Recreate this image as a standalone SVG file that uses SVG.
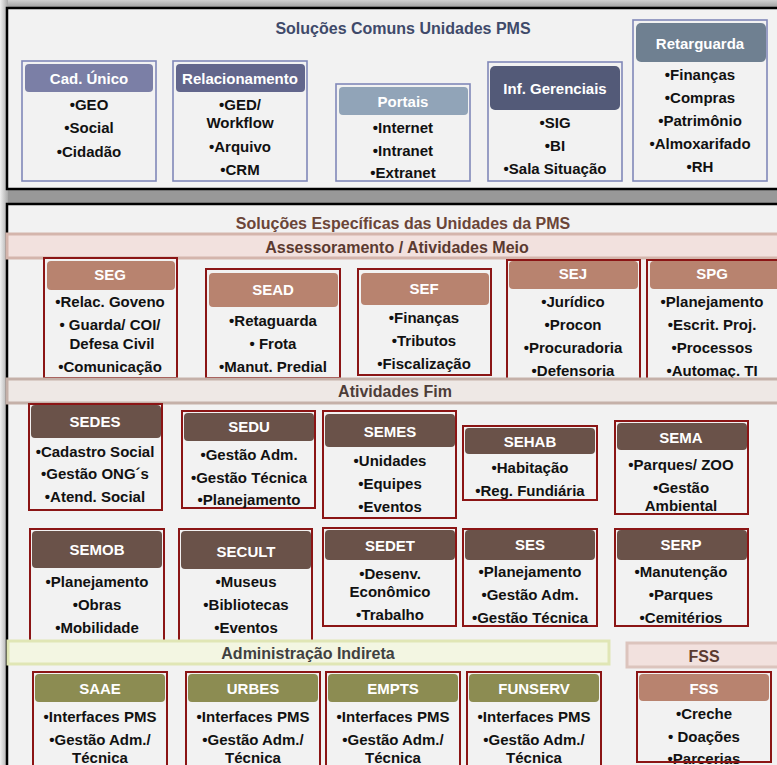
<svg xmlns="http://www.w3.org/2000/svg" width="777" height="765" viewBox="0 0 777 765">
<defs>
<linearGradient id="gl" x1="0" y1="0" x2="1" y2="0"><stop offset="0" stop-color="#f0f0f0"/><stop offset="1" stop-color="#a8a8a8"/></linearGradient>
<linearGradient id="gt" x1="0" y1="0" x2="0" y2="1"><stop offset="0" stop-color="#d0d0d0"/><stop offset="1" stop-color="#9a9a9a"/></linearGradient>
<style>
text{font-family:"Liberation Sans",Arial,sans-serif;font-weight:bold;text-anchor:middle;dominant-baseline:central}
.it{font-size:15px;fill:#111}
.hd{font-size:15px;fill:#fff}
.ttl{font-size:16px}
.ob{fill:#f2f2f2;stroke:#8088b8;stroke-width:1.6}
.or{fill:#f2f2f2;stroke:#8b1515;stroke-width:2}
.orn{fill:none;stroke:#8b1515;stroke-width:2}
.panel{fill:#f2f2f2;stroke:#000;stroke-width:2.5}
.h1{fill:#7b7fa6}.h2{fill:#62668c}.h3{fill:#91a4b8}.h4{fill:#535a78}.h5{fill:#6f8091}
.hm{fill:#b8836f}.hf{fill:#6a5249}.hi{fill:#8c8c52}
</style>
</defs>
<rect x="0" y="0" width="777" height="765" fill="#989898"/>
<rect x="0" y="0" width="777" height="8" fill="url(#gt)"/>
<rect x="0" y="0" width="8" height="765" fill="url(#gl)"/>
<rect class="panel" x="7" y="8" width="785" height="181"/>
<rect class="panel" x="7" y="204" width="785" height="575"/>
<g id="titles">
<text class="ttl" x="403" y="28" fill="#3f4a6a">Soluções Comuns Unidades PMS</text>
<text class="ttl" x="403" y="223" fill="#6b4538">Soluções Específicas das Unidades da PMS</text>
</g>
<g id="connectors"></g>
<g id="cad">
<rect class="ob" x="22" y="61" width="134" height="120"/>
<rect class="h1" x="25" y="64" width="128" height="28" rx="4"/>
<text class="hd" x="89" y="78">Cad. Único</text>
<text class="it" x="89" y="104">•GEO</text>
<text class="it" x="89" y="127">•Social</text>
<text class="it" x="89" y="151">•Cidadão</text>
</g>
<g id="rel">
<rect class="ob" x="173" y="61" width="134" height="120"/>
<rect class="h2" x="176" y="64" width="129" height="28" rx="4"/>
<text class="hd" x="240" y="78">Relacionamento</text>
<text class="it" x="240" y="104">•GED/</text>
<text class="it" x="240" y="122">Workflow</text>
<text class="it" x="240" y="146">•Arquivo</text>
<text class="it" x="240" y="169">•CRM</text>
</g>
<g id="portais">
<rect class="ob" x="336" y="84" width="134" height="97"/>
<rect class="h3" x="339" y="87" width="129" height="28" rx="4"/>
<text class="hd" x="403" y="101">Portais</text>
<text class="it" x="403" y="127">•Internet</text>
<text class="it" x="403" y="150">•Intranet</text>
<text class="it" x="403" y="172">•Extranet</text>
</g>
<g id="inf">
<rect class="ob" x="488" y="62" width="134" height="119"/>
<rect class="h4" x="490" y="66" width="130" height="44" rx="5"/>
<text class="hd" x="555" y="88">Inf. Gerenciais</text>
<text class="it" x="555" y="122">•SIG</text>
<text class="it" x="555" y="145">•BI</text>
<text class="it" x="555" y="168">•Sala Situação</text>
</g>
<g id="ret">
<rect class="ob" x="633" y="20" width="134" height="161"/>
<rect class="h5" x="636" y="23" width="130" height="39" rx="5"/>
<text class="hd" x="700" y="43">Retarguarda</text>
<text class="it" x="700" y="74">•Finanças</text>
<text class="it" x="700" y="97">•Compras</text>
<text class="it" x="700" y="120">•Patrimônio</text>
<text class="it" x="700" y="143">•Almoxarifado</text>
<text class="it" x="700" y="166">•RH</text>
</g>
<g id="band-meio">
<rect x="7" y="234" width="780" height="24" fill="#f2e1de" stroke="#d4b5ac" stroke-width="3"/>
<text class="ttl" x="397" y="247" fill="#5b3a30">Assessoramento / Atividades Meio</text>
</g>
<g id="seg">
<rect class="or" x="44" y="258" width="133" height="120"/>
<rect class="hm" x="47" y="261" width="128" height="29" rx="4"/>
<text class="hd" x="110" y="274">SEG</text>
<text class="it" x="110" y="301">•Relac. Goveno</text>
<text class="it" x="110" y="324">• Guarda/ COI/</text>
<text class="it" x="112" y="343">Defesa Civil</text>
<text class="it" x="110" y="366">•Comunicação</text>
</g>
<g id="sead">
<rect class="or" x="206" y="269" width="134" height="109"/>
<rect class="hm" x="209" y="273" width="129" height="34" rx="4"/>
<text class="hd" x="273" y="289">SEAD</text>
<text class="it" x="273" y="320">•Retaguarda</text>
<text class="it" x="273" y="343">• Frota</text>
<text class="it" x="273" y="366">•Manut. Predial</text>
</g>
<g id="sef">
<rect class="or" x="358" y="269" width="133" height="106"/>
<rect class="hm" x="361" y="273" width="128" height="32" rx="4"/>
<text class="hd" x="424" y="288">SEF</text>
<text class="it" x="424" y="317">•Finanças</text>
<text class="it" x="424" y="340">•Tributos</text>
<text class="it" x="424" y="363">•Fiscalização</text>
</g>
<g id="sej">
<rect class="or" x="507" y="260" width="133" height="125"/>
<rect class="hm" x="509" y="261" width="129" height="28" rx="4"/>
<text class="hd" x="573" y="273">SEJ</text>
<text class="it" x="573" y="301">•Jurídico</text>
<text class="it" x="573" y="324">•Procon</text>
<text class="it" x="573" y="347">•Procuradoria</text>
<text class="it" x="573" y="370">•Defensoria</text>
</g>
<g id="spg">
<rect class="or" x="647" y="260" width="135" height="125"/>
<rect class="hm" x="650" y="261" width="130" height="28" rx="4"/>
<text class="hd" x="712" y="273">SPG</text>
<text class="it" x="712" y="301">•Planejamento</text>
<text class="it" x="712" y="324">•Escrit. Proj.</text>
<text class="it" x="712" y="347">•Processos</text>
<text class="it" x="712" y="370">•Automaç. TI</text>
</g>
<g id="band-fim">
<rect x="7" y="379" width="780" height="24" fill="#eee8e5" stroke="#c5b1a9" stroke-width="3"/>
<text class="ttl" x="395" y="391" fill="#4d3d38">Atividades Fim</text>
</g>
<g id="sedes">
<rect class="or" x="29" y="404" width="133" height="106"/>
<rect class="hf" x="31" y="405" width="130" height="33" rx="4"/>
<text class="hd" x="95" y="421">SEDES</text>
<text class="it" x="95" y="451">•Cadastro Social</text>
<text class="it" x="95" y="473">•Gestão ONG´s</text>
<text class="it" x="95" y="496">•Atend. Social</text>
</g>
<g id="sedu">
<rect class="or" x="182" y="411" width="133" height="97"/>
<rect class="hf" x="184" y="413" width="130" height="28" rx="4"/>
<text class="hd" x="249" y="426">SEDU</text>
<text class="it" x="249" y="454">•Gestão Adm.</text>
<text class="it" x="249" y="477">•Gestão Técnica</text>
<text class="it" x="249" y="499">•Planejamento</text>
</g>
<g id="semes">
<rect class="or" x="323" y="411" width="133" height="107"/>
<rect class="hf" x="325" y="414" width="130" height="33" rx="4"/>
<text class="hd" x="390" y="431">SEMES</text>
<text class="it" x="390" y="460">•Unidades</text>
<text class="it" x="390" y="483">•Equipes</text>
<text class="it" x="390" y="506">•Eventos</text>
</g>
<g id="sehab">
<rect class="or" x="463" y="426" width="134" height="74"/>
<rect class="hf" x="465" y="428" width="130" height="26" rx="4"/>
<text class="hd" x="530" y="441">SEHAB</text>
<text class="it" x="530" y="467">•Habitação</text>
<text class="it" x="530" y="490">•Reg. Fundiária</text>
</g>
<g id="sema">
<rect class="or" x="615" y="421" width="133" height="93"/>
<rect class="hf" x="617" y="423" width="130" height="27" rx="4"/>
<text class="hd" x="681" y="437">SEMA</text>
<text class="it" x="681" y="464">•Parques/ ZOO</text>
<text class="it" x="681" y="487">•Gestão</text>
<text class="it" x="681" y="505">Ambiental</text>
</g>
<g id="semob">
<rect class="or" x="30" y="529" width="134" height="115"/>
<rect class="hf" x="32" y="531" width="130" height="37" rx="4"/>
<text class="hd" x="97" y="549">SEMOB</text>
<text class="it" x="97" y="581">•Planejamento</text>
<text class="it" x="97" y="604">•Obras</text>
<text class="it" x="97" y="627">•Mobilidade</text>
</g>
<g id="secult">
<rect class="or" x="179" y="529" width="133" height="115"/>
<rect class="hf" x="181" y="531" width="130" height="38" rx="4"/>
<text class="hd" x="246" y="551">SECULT</text>
<text class="it" x="246" y="581">•Museus</text>
<text class="it" x="246" y="604">•Bibliotecas</text>
<text class="it" x="246" y="627">•Eventos</text>
</g>
<g id="sedet">
<rect class="or" x="323" y="528" width="133" height="98"/>
<rect class="hf" x="325" y="530" width="130" height="30" rx="4"/>
<text class="hd" x="390" y="545">SEDET</text>
<text class="it" x="390" y="573">•Desenv.</text>
<text class="it" x="390" y="591">Econômico</text>
<text class="it" x="390" y="614">•Trabalho</text>
</g>
<g id="ses">
<rect class="or" x="463" y="529" width="134" height="97"/>
<rect class="hf" x="465" y="530" width="130" height="30" rx="4"/>
<text class="hd" x="530" y="544">SES</text>
<text class="it" x="530" y="571">•Planejamento</text>
<text class="it" x="530" y="594">•Gestão Adm.</text>
<text class="it" x="530" y="617">•Gestão Técnica</text>
</g>
<g id="serp">
<rect class="or" x="615" y="529" width="133" height="97"/>
<rect class="hf" x="617" y="530" width="130" height="30" rx="4"/>
<text class="hd" x="681" y="544">SERP</text>
<text class="it" x="681" y="571">•Manutenção</text>
<text class="it" x="681" y="594">•Parques</text>
<text class="it" x="681" y="617">•Cemitérios</text>
</g>
<g id="band-indireta">
<rect x="8" y="641" width="601" height="23" fill="#f3f6e2" stroke="#e0e6b5" stroke-width="3"/>
<text class="ttl" x="308" y="653" fill="#404040">Administração Indireta</text>
</g>
<g id="band-fss">
<rect x="627" y="643" width="160" height="24" fill="#f2e1de" stroke="#dcc4bd" stroke-width="3"/>
<text class="ttl" x="704" y="656" fill="#5b3a30">FSS</text>
</g>
<g id="saae">
<rect class="or" x="33" y="672" width="134" height="100"/>
<rect class="hi" x="35" y="674" width="130" height="28" rx="4"/>
<text class="hd" x="100" y="688">SAAE</text>
<text class="it" x="100" y="716">•Interfaces PMS</text>
<text class="it" x="100" y="739">•Gestão Adm./</text>
<text class="it" x="100" y="757">Técnica</text>
</g>
<g id="urbes">
<rect class="or" x="186" y="672" width="134" height="100"/>
<rect class="hi" x="188" y="674" width="130" height="28" rx="4"/>
<text class="hd" x="253" y="688">URBES</text>
<text class="it" x="253" y="716">•Interfaces PMS</text>
<text class="it" x="253" y="739">•Gestão Adm./</text>
<text class="it" x="253" y="757">Técnica</text>
</g>
<g id="empts">
<rect class="or" x="326" y="672" width="134" height="100"/>
<rect class="hi" x="328" y="674" width="130" height="28" rx="4"/>
<text class="hd" x="393" y="688">EMPTS</text>
<text class="it" x="393" y="716">•Interfaces PMS</text>
<text class="it" x="393" y="739">•Gestão Adm./</text>
<text class="it" x="393" y="757">Técnica</text>
</g>
<g id="funserv">
<rect class="or" x="467" y="672" width="134" height="100"/>
<rect class="hi" x="469" y="674" width="130" height="28" rx="4"/>
<text class="hd" x="534" y="688">FUNSERV</text>
<text class="it" x="534" y="716">•Interfaces PMS</text>
<text class="it" x="534" y="739">•Gestão Adm./</text>
<text class="it" x="534" y="757">Técnica</text>
</g>
<g id="fss">
<rect x="637" y="672" width="134" height="90" fill="#f2f2f2"/>
<rect class="hm" x="639" y="674" width="130" height="27" rx="4"/>
<text class="hd" x="704" y="688">FSS</text>
<text class="it" x="704" y="713">•Creche</text>
<text class="it" x="704" y="736">• Doações</text>
<text class="it" x="704" y="758">•Parcerias</text>
<rect class="orn" x="637" y="672" width="134" height="90"/>
</g>
</svg>
